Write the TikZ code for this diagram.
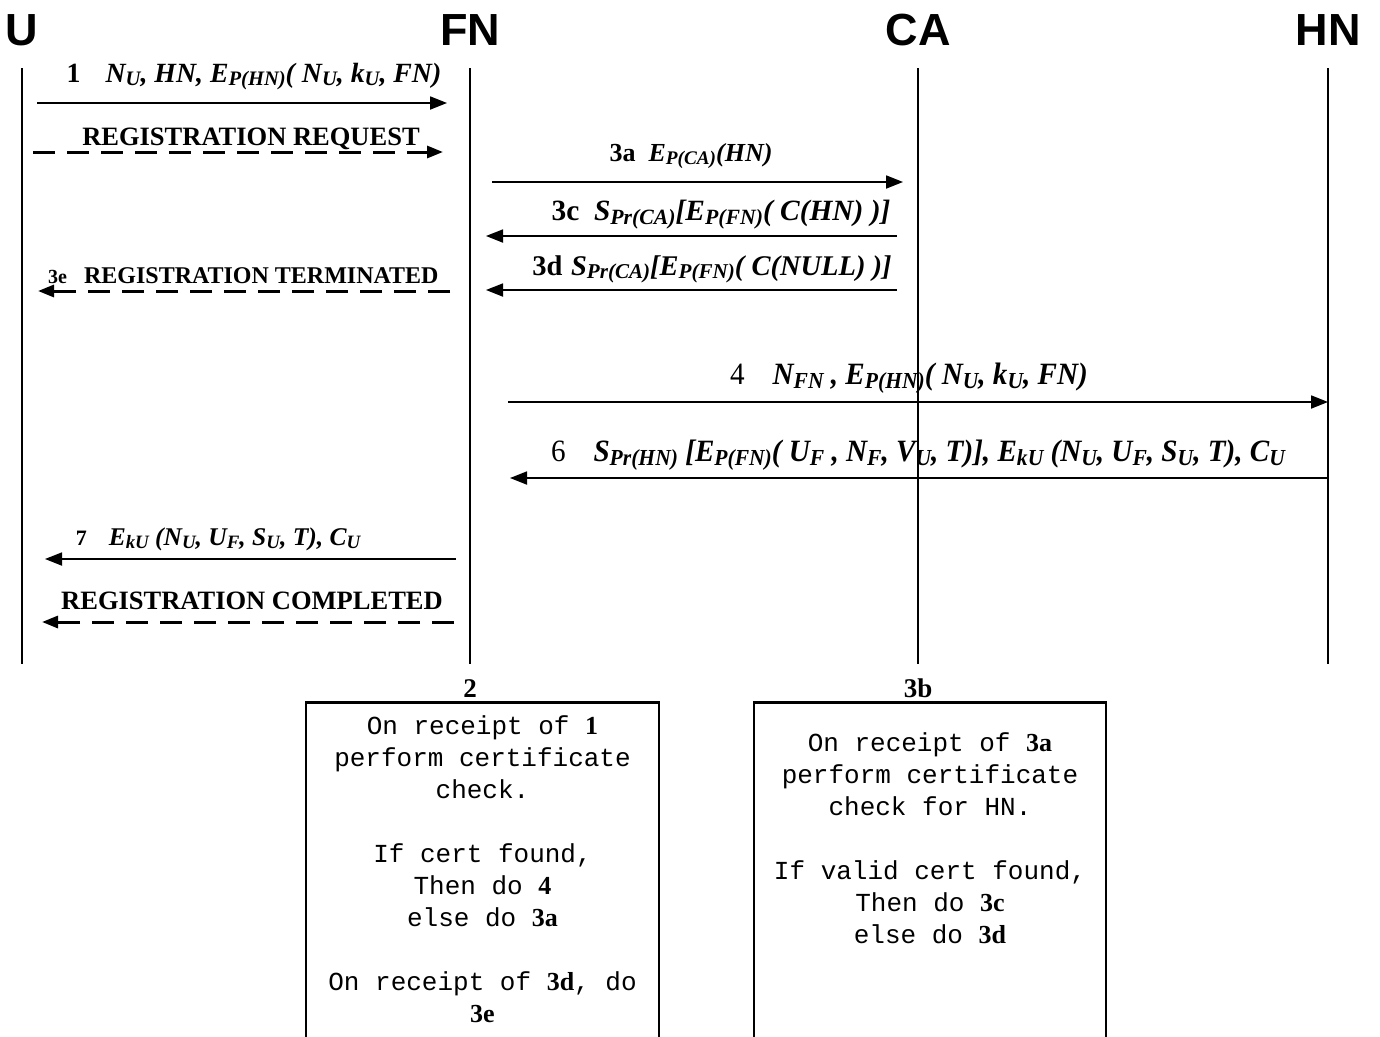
\documentclass[tikz,border=0pt]{standalone}
\usepackage{fontspec}
\setmainfont{Liberation Serif}
\setmonofont{Liberation Mono}
\newfontfamily\hdrfont{Liberation Sans}
\newfontfamily\narrowserif[FakeStretch=0.94]{Liberation Serif}
\usetikzlibrary{arrows.meta}
\newcommand\sbs[1]{\raisebox{-0.3ex}{\scalebox{0.74}{#1}}}
\newcommand\bi[1]{\textbf{\textit{#1}}}
\newcommand\fsz[1]{\fontsize{#1}{#1}\selectfont}

\begin{document}
\begin{tikzpicture}[x=1pt,y=-1pt,
  hdr/.style={font=\hdrfont\bfseries\fontsize{45}{50}\selectfont, inner sep=0pt},
  lifeline/.style={line width=1.6pt},
  msg/.style={line width=1.8pt, -{Triangle[length=17pt,width=13pt]}},
  dmsg/.style={line width=3pt, dash pattern=on 22pt off 12pt, -{Triangle[length=16pt,width=12pt]}},
  lbl/.style={inner sep=0pt, anchor=base},
  nlbl/.style={font=\narrowserif\fontsize{31}{34}\selectfont, inner sep=0pt, anchor=base},
  procbox/.style={draw, line width=2.6pt, inner sep=0pt, anchor=north},
  proctext/.style={font=\ttfamily\fontsize{26}{32}\selectfont, align=center, inner sep=0pt, anchor=north},
  steplbl/.style={font=\bfseries\fontsize{27}{30}\selectfont, inner sep=0pt, anchor=base}
]
\clip (0,0) rectangle (1380,1036);

% participants
\node[hdr] (U)  at (22,30)   {U};
\node[hdr] (FN) at (470,30)  {FN};
\node[hdr] (CA) at (918,30)  {CA};
\node[hdr] (HN) at (1328,30) {HN};

% lifelines
\coordinate (Utop)  at (22,68);   \coordinate (Ubot)  at (22,664);
\coordinate (FNtop) at (470,68);  \coordinate (FNbot) at (470,664);
\coordinate (CAtop) at (918,68);  \coordinate (CAbot) at (918,664);
\coordinate (HNtop) at (1328,68); \coordinate (HNbot) at (1328,664);
\draw[lifeline] (Utop) -- (Ubot);
\draw[lifeline] (FNtop) -- (FNbot);
\draw[lifeline] (CAtop) -- (CAbot);
\draw[lifeline] (HNtop) -- (HNbot);

% 1
\coordinate (m1a) at (37,103);  \coordinate (m1b) at (447,103);
\draw[msg] (m1a) -- (m1b);
\node[lbl] (l1) at (254,82) {\fsz{27.8}\textbf{1}\hspace{0.9em}\bi{N\sbs{U}, HN, E\sbs{P(HN)}( N\sbs{U}, k\sbs{U}, FN)}};

% registration request
\coordinate (rqa) at (33,152);  \coordinate (rqb) at (443,152);
\draw[dmsg] (rqa) -- (rqb);
\node[lbl] (lrq) at (251,145) {\fsz{26.5}\textbf{REGISTRATION REQUEST}};

% 3a
\coordinate (m3aa) at (492,182); \coordinate (m3ab) at (903,182);
\draw[msg] (m3aa) -- (m3ab);
\node[lbl] (l3a) at (691,161) {\fsz{26}\textbf{3a}\hspace{0.5em}\bi{E\sbs{P(CA)}(HN)}};

% 3c
\coordinate (m3ca) at (897,236); \coordinate (m3cb) at (486,236);
\draw[msg] (m3ca) -- (m3cb);
\node[lbl] (l3c) at (721,220) {\fsz{29.4}\textbf{3c}\hspace{0.5em}\bi{S\sbs{Pr(CA)}[E\sbs{P(FN)}( C(HN) )]}};

% 3d
\coordinate (m3da) at (897,290); \coordinate (m3db) at (486,290);
\draw[msg] (m3da) -- (m3db);
\node[lbl] (l3d) at (712,275) {\fsz{28.5}\textbf{3d}\hspace{0.3em}\bi{S\sbs{Pr(CA)}[E\sbs{P(FN)}( C(NULL) )]}};

% 3e
\coordinate (m3ea) at (450,291); \coordinate (m3eb) at (38,291);
\draw[dmsg] (m3ea) -- (m3eb);
\node[lbl, anchor=base west] (l3e) at (48,283) {\fsz{20}\textbf{3e}\hspace{0.85em}\fsz{24}\textbf{REGISTRATION TERMINATED}};

% 4
\coordinate (m4a) at (508,402); \coordinate (m4b) at (1328,402);
\draw[msg] (m4a) -- (m4b);
\node[nlbl] (l4) at (909,384) {4\hspace{0.9em}\bi{N\sbs{FN} , E\sbs{P(HN)}( N\sbs{U}, k\sbs{U}, FN)}};

% 6
\coordinate (m6a) at (1328,478); \coordinate (m6b) at (510,478);
\draw[msg] (m6a) -- (m6b);
\node[nlbl] (l6) at (918,461) {6\hspace{0.9em}\bi{S\sbs{Pr(HN)} [E\sbs{P(FN)}( U\sbs{F} , N\sbs{F}, V\sbs{U}, T)], E\sbs{kU} (N\sbs{U}, U\sbs{F}, S\sbs{U}, T), C\sbs{U}}};

% 7
\coordinate (m7a) at (456,559); \coordinate (m7b) at (45,559);
\draw[msg] (m7a) -- (m7b);
\node[lbl] (l7) at (218,545) {\fsz{22}\textbf{7}\hspace{1em}\fsz{25.5}\bi{E\sbs{kU} (N\sbs{U}, U\sbs{F}, S\sbs{U}, T), C\sbs{U}}};

% registration completed
\coordinate (rca) at (454,622); \coordinate (rcb) at (42,622);
\draw[dmsg] (rca) -- (rcb);
\node[lbl] (lrc) at (252,609) {\fsz{26.5}\textbf{REGISTRATION COMPLETED}};

% processing steps
\node[steplbl] (s2)  at (470,697) {2};
\node[steplbl] (s3b) at (918,697) {3b};
\node[procbox, minimum width=353pt, minimum height=360pt] (box2)  at (482.5,701) {};
\node[procbox, minimum width=352pt, minimum height=360pt] (box3b) at (930,701) {};

\node[proctext] (t2) at ([yshift=-14pt]box2.north) {%
On receipt of {\rmfamily\bfseries 1}\\
perform certificate\\
check.\\[32pt]
If cert found,\\
Then do {\rmfamily\bfseries 4}\\
else do {\rmfamily\bfseries 3a}\\[32pt]
On receipt of {\rmfamily\bfseries 3d}, do\\
{\rmfamily\bfseries 3e}};

\node[proctext] (t3b) at ([yshift=-31pt]box3b.north) {%
On receipt of {\rmfamily\bfseries 3a}\\
perform certificate\\
check for HN.\\[32pt]
If valid cert found,\\
Then do {\rmfamily\bfseries 3c}\\
else do {\rmfamily\bfseries 3d}};
\end{tikzpicture}
\end{document}
